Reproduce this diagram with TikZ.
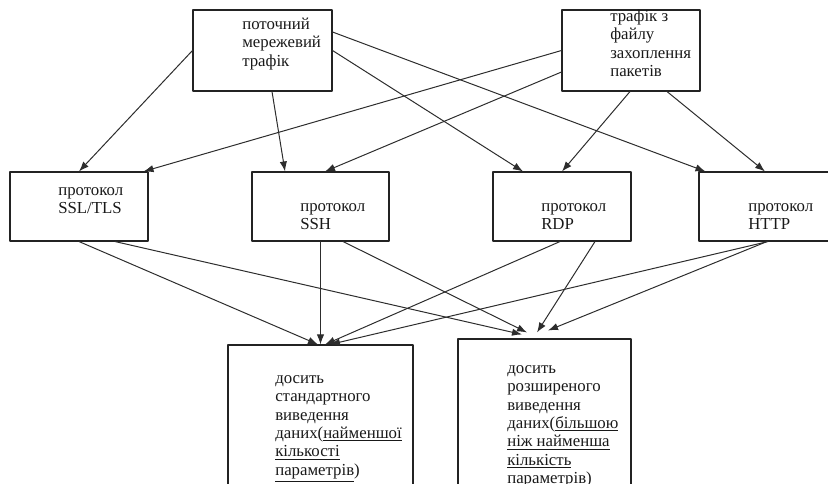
\documentclass[tikz,border=0pt]{standalone}
\usepackage{fontspec}
\setmainfont{Liberation Serif}
\usetikzlibrary{arrows.meta,calc}
\definecolor{boxline}{RGB}{35,35,35}
\definecolor{arrline}{RGB}{45,45,45}
\newcommand{\vys}{\rule{0pt}{0.72em}}

\begin{document}
\begin{tikzpicture}[x=0.75pt,y=-0.75pt,line cap=round,line join=round,
        blok/.style={draw=boxline,line width=0.8pt,inner sep=0pt},
        wh/.style 2 args={minimum width=#1*0.75pt,minimum height=#2*0.75pt},
        txt/.style={anchor=north west,inner sep=0pt,align=left,
            font=\fontsize{12.6}{13.8}\selectfont,text=black!90},
        arr/.style={draw=arrline,line width=0.75pt,-{Latex[length=7.5pt,width=5.5pt]}}]
        \clip (0,0) rectangle (828,483);

        % Джерела трафіку
        \node[blok,wh={139}{81}] (potik) at (262.5,50.5) {};
        \node[txt] (potik-t) at (242,17) {\vys поточний\\мережевий\\трафік};
        \node[blok,wh={138}{81}] (fajl) at (631,50.5) {};
        \node[txt] (fajl-t) at (610,9) {\vys трафік з\\файлу\\захоплення\\пакетів};

        % Протоколи
        \node[blok,wh={138}{69}] (ssl) at (79,206.5) {};
        \node[txt] (ssl-t) at (58,183) {\vys протокол\\SSL/TLS};
        \node[blok,wh={137}{69}] (ssh) at (320.5,206.5) {};
        \node[txt] (ssh-t) at (300,199) {\vys протокол\\SSH};
        \node[blok,wh={138}{69}] (rdp) at (562,206.5) {};
        \node[txt] (rdp-t) at (541,199) {\vys протокол\\RDP};
        \node[blok,wh={138}{69}] (http) at (768,206.5) {};
        \node[txt] (http-t) at (748,199) {\vys протокол\\HTTP};

        % Виведення даних
        \node[blok,wh={185}{155}] (std) at (320.5,422.5) {};
        \node[txt] (std-t) at (275,371)
            {\vys досить\\стандартного\\виведення\\даних(\underline{найменшої}\\
             \underline{кількості}\\\underline{параметрів})};
        \node[blok,wh={173}{161}] (rozsh) at (544.5,419.5) {};
        \node[txt] (rozsh-t) at (507,361)
            {\vys досить\\розширеного\\виведення\\даних(\underline{більшою}\\
             \underline{ніж найменша}\\\underline{кількість}\\\underline{параметрів})};

        % Зв'язки: джерела -> протоколи
        \draw[arr] (potik.west) -- (ssl.north);
        \draw[arr] ($(potik.south)+(9.5,0)$) -- ($(ssh.north)+(-35.5,0)$);
        \draw[arr] ($(potik.east)+(0,-18.5)$) -- ($(http.north west)+(7,0)$);
        \draw[arr] (potik.east) -- ($(rdp.north)+(-39,0)$);
        \draw[arr] (fajl.west) -- ($(ssl.north east)+(-5,0)$);
        \draw[arr] ($(fajl.west)+(0,21.5)$) -- ($(ssh.north)+(4.5,0)$);
        \draw[arr] ($(fajl.south)+(-1,0)$) -- (rdp.north);
        \draw[arr] ($(fajl.south)+(36,0)$) -- ($(http.north)+(-3,0)$);

        % Зв'язки: протоколи -> виведення
        \draw[arr] (ssl.south) -- ($(std.north)+(-2.5,0)$);
        \draw[arr] ($(ssl.south)+(36,0)$) -- ($(rozsh.north)+(-22.5,-4)$);
        \draw[arr] (ssh.south) -- (std.north);
        \draw[arr] ($(ssh.south)+(22.5,0)$) -- ($(rozsh.north)+(-17.5,-6)$);
        \draw[arr] ($(rdp.south)+(-2,0)$) -- ($(std.north)+(4.5,0)$);
        \draw[arr] ($(rdp.south)+(33,0)$) -- ($(rozsh.north)+(-7.5,-6)$);
        \draw[arr] (http.south) -- ($(std.north)+(9.5,0)$);
        \draw[arr] ($(http.south)+(-1,0)$) -- ($(rozsh.north)+(3.5,-8)$);
    \end{tikzpicture}
\end{document}
